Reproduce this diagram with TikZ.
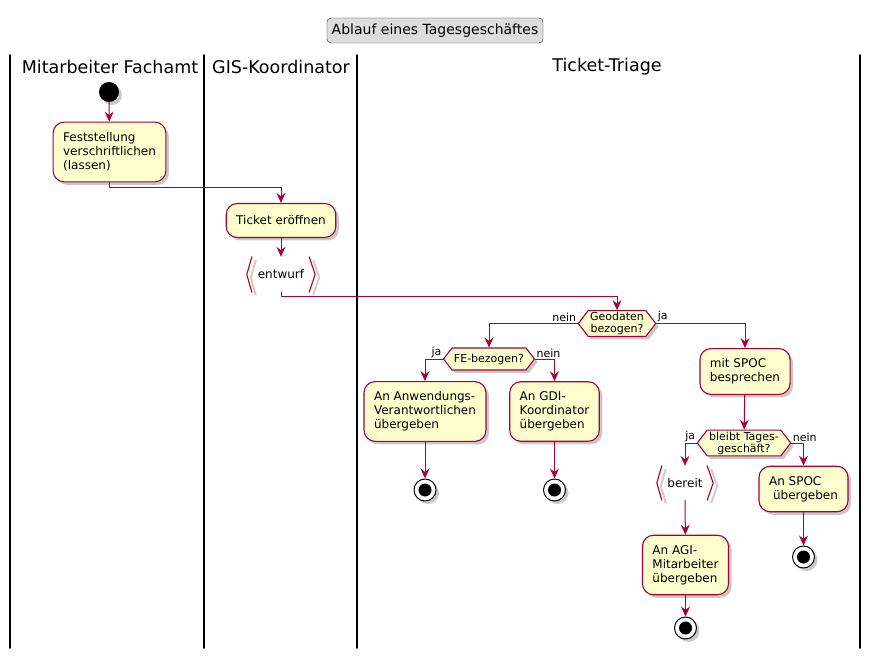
\documentclass[tikz,border=0pt]{standalone}
\usepackage{fontspec}
\setmainfont{DejaVu Sans}
\usetikzlibrary{arrows.meta}
\usetikzlibrary{shapes.symbols,shadows}
\definecolor{rand}{HTML}{A80036}
\definecolor{aktiv}{HTML}{FEFECE}
\definecolor{titelgrau}{HTML}{DDDDDD}
\tikzset{
  schatten/.style={drop shadow={shadow xshift=3pt,shadow yshift=-3pt,opacity=0.3,fill=black!70}},
  akt/.style={draw=rand,fill=aktiv,line width=1.1pt,rounded corners=11pt,align=left,
    inner xsep=10pt,inner ysep=10pt,font=\fontsize{12}{14}\selectfont,schatten,
    execute at begin node={\rule{0pt}{11.4pt}},execute at end node={\rule[-2.6pt]{0pt}{2.6pt}}},
  raute/.style={draw=rand,fill=aktiv,line width=1.1pt,shape=signal,signal to=west and east,
    signal pointer angle=105,align=center,inner xsep=2pt,inner ysep=1.5pt,minimum height=22pt,
    font=\fontsize{11}{12}\selectfont,schatten},
  objekt/.style={minimum height=35pt,inner sep=0pt,font=\fontsize{12}{14}\selectfont},
  klammer/.style={draw=rand,line width=1.1pt},
  pfeil/.style={draw=rand,line width=1pt,-{Stealth[length=10pt,width=9pt,inset=3.5pt]}},
  lbl/.style={font=\fontsize{11}{12}\selectfont,inner sep=1pt},
  kopf/.style={font=\fontsize{17.5}{20}\selectfont},
  startpunkt/.style={circle,fill=black,minimum size=20pt,inner sep=0pt,schatten},
  endpunkt/.style={circle,draw=black,fill=white,line width=1pt,minimum size=22pt,inner sep=0pt,
    schatten,path picture={\fill[black] (path picture bounding box.center) circle (6.5pt);}}
}
\begin{document}
\begin{tikzpicture}[line cap=round,line join=round,x=1pt,y=-1pt]
\useasboundingbox (0,0) rectangle (870,660);
% Titel und Bahnen
\node[draw=black!85,fill=titelgrau,rounded corners=4pt,minimum width=216pt,minimum height=25pt,
  font=\fontsize{14}{16}\selectfont] (titel) at (435,30.5) {Ablauf eines Tagesgeschäftes};
\foreach \x in {10,204,357,860}
\draw[line width=1.6pt] (\x,55) -- (\x,648);
\node[kopf] (kopfA) at (110,67) {Mitarbeiter Fachamt};
\node[kopf] (kopfB) at (281,67) {GIS-Koordinator};
\node[kopf] (kopfC) at (607,67) {Ticket-Triage};
% Knoten
\node[startpunkt] (start) at (109,92) {};
\node[akt] (fest) at (109.5,152) {Feststellung\\verschriftlichen\\(lassen)};
\node[akt] (ticket) at (281,220.5) {Ticket eröffnen};
\node[objekt,minimum width=68pt] (entwurf) at (281,274.5) {entwurf};
\node[raute] (geo) at (617,323.5) {Geodaten\\bezogen?};
\node[raute] (fe) at (489,359) {FE-bezogen?};
\node[akt] (anw) at (425,411.5) {An Anwendungs-\\Verantwortlichen\\übergeben};
\node[akt] (gdi) at (554.5,411.5) {An GDI-\\Koordinator\\übergeben};
\node[endpunkt] (ende1) at (425,490) {};
\node[endpunkt] (ende2) at (554.5,490) {};
\node[akt] (spoc) at (745,371.5) {mit SPOC\\besprechen};
\node[raute] (bleibt) at (744,443) {bleibt Tages-\\geschäft?};
\node[objekt,minimum width=56pt,minimum height=34pt] (bereit) at (685,483) {bereit};
\node[akt] (agi) at (685.5,565) {An AGI-\\Mitarbeiter\\übergeben};
\node[endpunkt] (ende3) at (685.5,628) {};
\node[akt] (anspoc) at (803.5,489) {An SPOC\\\hspace*{4pt}übergeben};
\node[endpunkt] (ende4) at (803.5,557) {};
% Objektklammern
\foreach \o in {entwurf,bereit}{
\fill[black!20] ([xshift=8pt,yshift=-3pt]\o.north west) -- ([xshift=3pt,yshift=-3pt]\o.west) -- ([xshift=8pt,yshift=-3pt]\o.south west) -- ([xshift=10pt,yshift=-3pt]\o.south west) -- ([xshift=5pt,yshift=-3pt]\o.west) -- ([xshift=10pt,yshift=-3pt]\o.north west) -- cycle;
\fill[black!20] ([xshift=-3pt,yshift=-3pt]\o.north east) -- ([xshift=3pt,yshift=-3pt]\o.east) -- ([xshift=-3pt,yshift=-3pt]\o.south east) -- ([xshift=-1pt,yshift=-3pt]\o.south east) -- ([xshift=5pt,yshift=-3pt]\o.east) -- ([xshift=-1pt,yshift=-3pt]\o.north east) -- cycle;
\fill[aktiv] ([xshift=5pt]\o.north west) -- (\o.west) -- ([xshift=5pt]\o.south west) -- ([xshift=7pt]\o.south west) -- ([xshift=2pt]\o.west) -- ([xshift=7pt]\o.north west) -- cycle;
\fill[aktiv] ([xshift=-6pt]\o.north east) -- (\o.east) -- ([xshift=-6pt]\o.south east) -- ([xshift=-8pt]\o.south east) -- ([xshift=-2pt]\o.east) -- ([xshift=-8pt]\o.north east) -- cycle;
\draw[klammer] ([xshift=5pt]\o.north west) -- (\o.west) -- ([xshift=5pt]\o.south west);
\draw[klammer] ([xshift=-6pt]\o.north east) -- (\o.east) -- ([xshift=-6pt]\o.south east);
}
% Verbindungen
\draw[pfeil] (start) -- (fest);
\draw[pfeil] (fest.south) -- ++(0,5) -| (ticket.north);
\draw[pfeil] (ticket) -- (entwurf);
\draw[pfeil] (entwurf.south) -- ++(0,4) -| (geo.north);
\draw[pfeil] (geo.west) node[lbl,anchor=south east] (nein1) {nein} -| (fe.north);
\draw[pfeil] (geo.east) node[lbl,anchor=south west] (ja1) {ja} -| (spoc.north);
\draw[pfeil] (fe.west) node[lbl,anchor=south east] (ja2) {ja} -| (anw.north);
\draw[pfeil] (fe.east) node[lbl,anchor=south west] (nein2) {nein} -| (gdi.north);
\draw[pfeil] (anw) -- (ende1);
\draw[pfeil] (gdi) -- (ende2);
\draw[pfeil] (spoc) -- (bleibt);
\draw[pfeil] (bleibt.west) node[lbl,anchor=south east] (ja3) {ja} -| (bereit.north);
\draw[pfeil] (bleibt.east) node[lbl,anchor=south west] (nein3) {nein} -| (anspoc.north);
\draw[pfeil] (bereit) -- (agi);
\draw[pfeil] (agi) -- (ende3);
\draw[pfeil] (anspoc) -- (ende4);
\end{tikzpicture}
\end{document}
